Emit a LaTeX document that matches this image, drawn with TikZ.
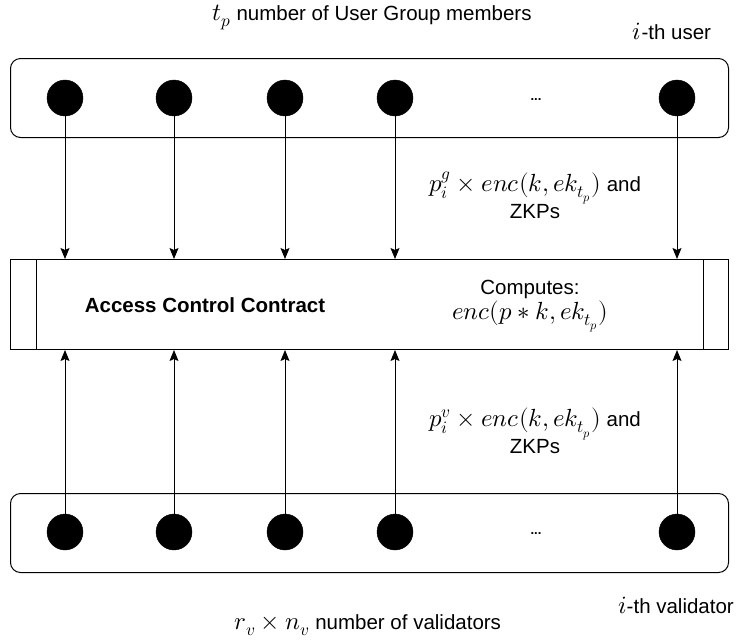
\documentclass[tikz,border=0pt]{standalone}
\usepackage{fontspec}
\setmainfont{Liberation Sans}
\usepackage{unicode-math}
\setmathfont{Latin Modern Math}[Scale=1.21]
\usetikzlibrary{arrows.meta}
\begin{document}
\begin{tikzpicture}[x=1pt,y=-1pt,
  dot/.style={circle,fill=black,draw=black,minimum size=36pt,inner sep=0pt},
  grp/.style={draw=black,line width=1pt,rounded corners=10pt},
  lbl/.style={font=\fontsize{20.5}{27}\selectfont,align=center,inner sep=0pt},
  arr/.style={line width=1pt,-{Stealth[length=11pt,width=9pt,inset=2pt]}}]
\useasboundingbox (0,0) rectangle (738,641);
% top group
\node[grp,minimum width=718pt,minimum height=79pt,anchor=north west] (top) at (10,58) {};
\node[dot] (u1) at (65,98) {};
\node[dot] (u2) at (174,98) {};
\node[dot] (u3) at (285,98) {};
\node[dot] (u4) at (395,98) {};
\node[dot] (u5) at (677,98) {};
\node[lbl,font=\fontsize{13}{14}\selectfont\bfseries] (udots) at (536,100) {...};
% contract
\node[draw=black,line width=1pt,minimum width=718pt,minimum height=90pt,anchor=north west,inner sep=0pt] (acc) at (10,259) {};
\draw[line width=1pt] (acc.north west) ++(26,0) coordinate (l1) -- (l1 |- acc.south);
\draw[line width=1pt] (acc.north east) ++(-26,0) coordinate (r1) -- (r1 |- acc.south);
\node[lbl,font=\fontsize{20.5}{24}\selectfont\bfseries] (acct) at (205,305) {Access Control Contract};
\node[lbl,font=\fontsize{20.5}{25}\selectfont] (comp) at (530,306) {Computes:\\$enc(p*k,ek_{t_p})$};
% bottom group
\node[grp,minimum width=718pt,minimum height=79pt,anchor=north west] (bot) at (10,493) {};
\node[dot] (v1) at (65,532) {};
\node[dot] (v2) at (174,532) {};
\node[dot] (v3) at (285,532) {};
\node[dot] (v4) at (395,532) {};
\node[dot] (v5) at (677,532) {};
\node[lbl,font=\fontsize{13}{14}\selectfont\bfseries] (vdots) at (536,534) {...};
% arrows
\foreach \i in {1,...,5}{
  \draw[arr] (u\i.center) -- (u\i.center |- acc.north);
  \draw[arr] (v\i.center) -- (v\i.center |- acc.south);
}
% labels
\node[lbl] (tpl) at (372,17) {$t_p$ number of User Group members};
\node[lbl] (ith) at (672,31) {$i$-th user};
\node[lbl] (gl) at (535,195) {$p_i^g \times enc(k,ek_{t_p})$ and\\ZKPs};
\node[lbl] (vl) at (535,431) {$p_i^v \times enc(k,ek_{t_p})$ and\\ZKPs};
\node[lbl] (ithv) at (676,605) {$i$-th validator};
\node[lbl] (rvl) at (368,625) {$r_v \times n_v$ number of validators};
\end{tikzpicture}
\end{document}
